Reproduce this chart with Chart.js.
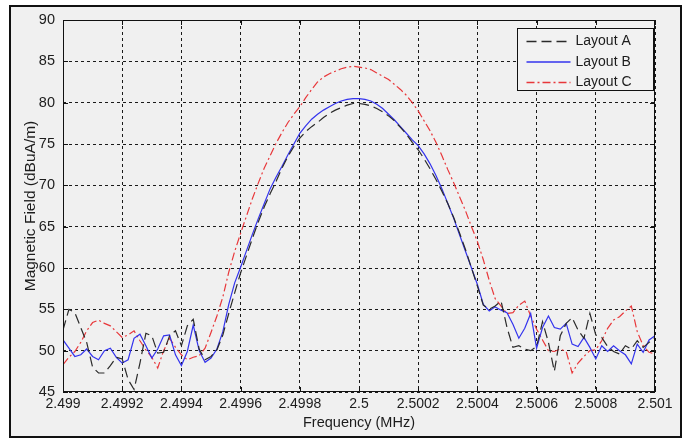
<!DOCTYPE html>
<html>
<head>
<meta charset="utf-8">
<style>
  body { margin: 0; background: #fff; }
  .frame { position: absolute; left: 9px; top: 5px; width: 669px; height: 429px; border: 2px solid #111; background: #f0f0f0; }
  canvas { position: absolute; left: 0; top: 0; }
</style>
</head>
<body>
<div class="frame"></div>
<canvas id="field" width="689" height="443"></canvas>
<script src="https://cdn.jsdelivr.net/npm/chart.js"></script>
<script>
  // frequency samples (MHz)
  const freq = [
    2.49900, 2.49902, 2.49904, 2.49906, 2.49908, 2.49910, 2.49912, 2.49914, 2.49916, 2.49918,
    2.49920, 2.49922, 2.49924, 2.49926, 2.49928, 2.49930, 2.49932, 2.49934, 2.49936, 2.49938,
    2.49940, 2.49942, 2.49944, 2.49946, 2.49948, 2.49950, 2.49952, 2.49954, 2.49956, 2.49958,
    2.49960, 2.49962, 2.49964, 2.49966, 2.49968, 2.49970, 2.49972, 2.49974, 2.49976, 2.49978,
    2.49980, 2.49982, 2.49984, 2.49986, 2.49988, 2.49990, 2.49992, 2.49994, 2.49996, 2.49998,
    2.50000, 2.50002, 2.50004, 2.50006, 2.50008, 2.50010, 2.50012, 2.50014, 2.50016, 2.50018,
    2.50020, 2.50022, 2.50024, 2.50026, 2.50028, 2.50030, 2.50032, 2.50034, 2.50036, 2.50038,
    2.50040, 2.50042, 2.50044, 2.50046, 2.50048, 2.50050, 2.50052, 2.50054, 2.50056, 2.50058,
    2.50060, 2.50062, 2.50064, 2.50066, 2.50068, 2.50070, 2.50072, 2.50074, 2.50076, 2.50078,
    2.50080, 2.50082, 2.50084, 2.50086, 2.50088, 2.50090, 2.50092, 2.50094, 2.50096, 2.50098,
    2.50100
  ];

  const layoutA = [
    52.5, 55.0, 54.6, 52.8, 51.0, 48.0, 47.3, 47.3, 48.2, 49.2,
    49.0, 46.5, 45.3, 48.5, 52.1, 51.8, 49.7, 49.8, 51.8, 52.4,
    50.6, 53.0, 53.8, 50.2, 48.9, 49.3, 50.1, 51.9, 54.5, 57.0,
    59.4, 61.5, 63.6, 65.6, 67.4, 69.0, 70.5, 72.1, 73.5, 74.7,
    75.7, 76.5, 77.1, 77.6, 78.2, 78.7, 79.1, 79.4, 79.7, 79.9,
    79.9, 79.8, 79.6, 79.3, 78.9, 78.4, 77.8, 77.0, 76.2, 75.2,
    74.3, 73.2, 72.0, 70.7, 69.3, 67.8, 66.1, 64.2, 62.2, 60.0,
    57.8, 55.5, 55.0, 55.4, 56.0, 52.8, 50.4, 50.6, 50.2, 50.0,
    50.5, 53.5, 51.0, 47.5, 51.8, 53.3, 54.0, 52.5, 51.5, 54.5,
    51.9, 51.6, 50.5, 49.9, 49.6, 50.6, 50.2, 51.2, 50.4, 51.0,
    51.6
  ];

  const layoutB = [
    51.3, 50.3, 49.3, 49.5, 50.2, 49.3, 48.9, 50.0, 50.3, 49.2,
    48.5, 48.9, 51.5, 52.0, 50.6, 49.1, 50.2, 51.8, 51.9, 49.5,
    48.2, 49.9, 53.1, 50.0, 48.6, 49.1, 50.2, 52.3, 55.6, 58.2,
    60.1, 62.1, 64.1, 66.0, 67.8, 69.6, 71.0, 72.3, 73.7, 75.0,
    76.3, 77.2, 78.0, 78.6, 79.1, 79.5, 79.9, 80.2, 80.4, 80.5,
    80.5, 80.4, 80.2, 79.8, 79.3, 78.6, 77.9, 77.1, 76.3, 75.5,
    74.8, 73.8, 72.6, 71.2, 69.6, 67.8, 66.0, 64.0, 62.0, 60.0,
    58.0, 55.6, 54.8, 55.3, 54.9, 54.6, 53.2, 51.5, 52.7, 54.5,
    50.3, 52.8, 54.2, 52.8, 52.6, 53.3, 50.8, 50.5, 51.6, 50.4,
    49.0, 50.6, 49.9, 50.6, 50.0, 49.5, 48.4, 50.8, 49.8, 51.3,
    51.8
  ];

  const layoutC = [
    48.3, 49.2, 49.9, 51.0, 52.4, 53.4, 53.7, 53.3, 53.0, 52.3,
    51.6, 51.9, 52.4, 51.2, 50.1, 49.2, 47.9, 50.0, 51.5, 50.4,
    49.5, 48.9, 49.2, 49.4, 50.3, 52.2, 54.2, 56.5, 59.5, 62.0,
    64.2, 66.3, 68.4, 70.3, 72.1, 73.6, 75.1, 76.4, 77.6, 78.6,
    79.5, 80.6, 81.6, 82.5, 83.1, 83.5, 83.8, 84.1, 84.3, 84.4,
    84.3, 84.2, 84.0, 83.6, 83.2, 82.8, 82.2, 81.6, 80.9, 80.0,
    79.0, 77.8, 76.6, 75.2, 73.6, 71.9, 70.3, 68.6, 66.9, 65.0,
    63.2, 61.0, 58.5, 56.3, 55.4, 54.5, 54.6, 55.5, 56.0, 54.2,
    52.6, 51.3, 50.0, 49.9, 50.2, 49.9, 47.3, 48.5, 49.3, 50.0,
    50.1, 51.2, 52.7, 53.7, 54.1, 54.8, 55.4, 52.3, 50.6, 49.8,
    49.6
  ];

  const seriesNames = ['Layout A', 'Layout B', 'Layout C'];
  const xTicks = [2.499, 2.4992, 2.4994, 2.4996, 2.4998, 2.5, 2.5002, 2.5004, 2.5006, 2.5008, 2.501];
  const xTickLabels = ['2.499', '2.4992', '2.4994', '2.4996', '2.4998', '2.5', '2.5002', '2.5004', '2.5006', '2.5008', '2.501'];

  const FONT = '"Liberation Sans", Arial, sans-serif';
  const TEXT = '#1c1c1c';

  function pts(vals) {
    return freq.map((f, i) => ({ x: f, y: vals[i] }));
  }

  // solid box + small inward ticks, like the original axes
  const axisBox = {
    id: 'axisBox',
    afterDatasetsDraw(chart) {
      const { ctx, chartArea: a, scales: { x, y } } = chart;
      ctx.save();
      ctx.setLineDash([]);
      ctx.strokeStyle = '#111';
      ctx.lineWidth = 1;
      ctx.strokeRect(Math.round(a.left) + 0.5, Math.round(a.top) + 0.5,
                     Math.round(a.width) - 1, Math.round(a.height) - 1);
      ctx.beginPath();
      x.ticks.forEach(t => {
        const px = Math.round(x.getPixelForValue(t.value)) + 0.5;
        ctx.moveTo(px, a.bottom); ctx.lineTo(px, a.bottom - 5);
        ctx.moveTo(px, a.top); ctx.lineTo(px, a.top + 5);
      });
      y.ticks.forEach(t => {
        const py = Math.round(y.getPixelForValue(t.value)) + 0.5;
        ctx.moveTo(a.left, py); ctx.lineTo(a.left + 5, py);
        ctx.moveTo(a.right, py); ctx.lineTo(a.right - 5, py);
      });
      ctx.stroke();
      ctx.restore();
    }
  };

  // legend box in the upper right corner of the plot
  const boxLegend = {
    id: 'boxLegend',
    afterDraw(chart) {
      const { ctx, chartArea: a } = chart;
      const w = 136, h = 62;
      const left = Math.round(a.right) - w - 2 + 0.5, top = Math.round(a.top) + 8 + 0.5;
      ctx.save();
      ctx.fillStyle = '#f2f2f2';
      ctx.fillRect(left, top, w, h);
      ctx.strokeStyle = '#111';
      ctx.lineWidth = 1;
      ctx.setLineDash([]);
      ctx.strokeRect(left, top, w, h);
      ctx.font = '14px ' + FONT;
      ctx.textBaseline = 'middle';
      chart.data.datasets.forEach((ds, i) => {
        const cy = top + 13 + i * 20.5;
        ctx.beginPath();
        ctx.strokeStyle = ds.borderColor;
        ctx.lineWidth = 1.3;
        ctx.setLineDash(ds.borderDash || []);
        ctx.moveTo(left + 9, cy);
        ctx.lineTo(left + 53, cy);
        ctx.stroke();
        ctx.setLineDash([]);
        ctx.fillStyle = TEXT;
        ctx.fillText(ds.label, left + 58, cy);
      });
      ctx.restore();
    }
  };

  new Chart(document.getElementById('field'), {
    type: 'line',
    data: {
      datasets: [
        { label: seriesNames[0], data: pts(layoutA), borderColor: '#2a2a2a', borderWidth: 1.2, borderDash: [10, 5] },
        { label: seriesNames[1], data: pts(layoutB), borderColor: '#3333ee', borderWidth: 1.2 },
        { label: seriesNames[2], data: pts(layoutC), borderColor: '#e8373a', borderWidth: 1.2, borderDash: [8, 3, 2, 3] }
      ]
    },
    options: {
      responsive: false,
      animation: false,
      layout: { padding: { left: 13, right: 34, top: 20, bottom: 10 } },
      elements: { point: { radius: 0 }, line: { tension: 0, fill: false } },
      plugins: { legend: { display: false }, tooltip: { enabled: false } },
      scales: {
        x: {
          type: 'linear',
          min: 2.499,
          max: 2.501,
          afterBuildTicks: s => { s.ticks = xTicks.map(v => ({ value: v })); },
          afterFit: s => { s.height = 41; },
          ticks: {
            autoSkip: false,
            maxRotation: 0,
            padding: 4,
            color: TEXT,
            font: { family: FONT, size: 14 },
            callback: (v, i) => xTickLabels[i]
          },
          grid: { color: '#1a1a1a', lineWidth: 1, drawTicks: false, borderDash: [3, 3] },
          border: { display: false, dash: [3, 3] },
          title: {
            display: true,
            text: 'Frequency (MHz)',
            color: TEXT,
            font: { family: FONT, size: 14.5 },
            padding: { top: 0, bottom: 1 }
          }
        },
        y: {
          min: 45,
          max: 90,
          afterFit: s => { s.width = 50; },
          ticks: {
            stepSize: 5,
            padding: 8,
            color: TEXT,
            font: { family: FONT, size: 14.5 }
          },
          grid: { color: '#1a1a1a', lineWidth: 1, drawTicks: false, borderDash: [3, 3] },
          border: { display: false, dash: [3, 3] },
          title: {
            display: true,
            text: 'Magnetic Field (dBuA/m)',
            color: TEXT,
            font: { family: FONT, size: 15.5 },
            padding: { top: 8, bottom: 0 }
          }
        }
      }
    },
    plugins: [axisBox, boxLegend]
  });
</script>
</body>
</html>
